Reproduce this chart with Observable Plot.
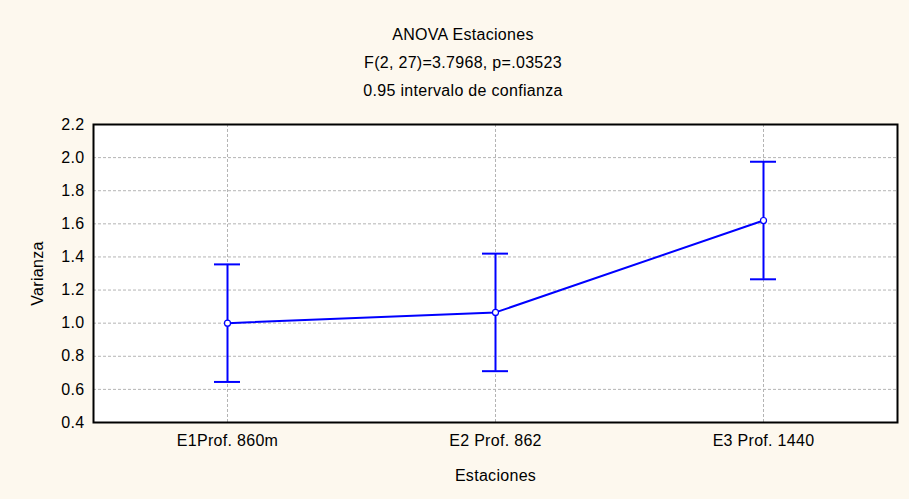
<!DOCTYPE html>
<html>
<head>
<meta charset="utf-8">
<script src="https://cdn.jsdelivr.net/npm/d3@7"></script>
<script src="https://cdn.jsdelivr.net/npm/@observablehq/plot@0.6"></script>
<style>
  html, body { margin: 0; padding: 0; background: #fdf8ee; }
  #page { width: 909px; height: 499px; background: #fdf8ee; font-family: "Liberation Sans", Arial, sans-serif; }
  #titles { height: 110px; box-sizing: border-box; padding-top: 21px; padding-left: 17px; text-align: center; color: #000; font-size: 16px; letter-spacing: 0.3px; }
  #titles div { line-height: 28px; }
  #chart svg { display: block; }
</style>
</head>
<body>
<div id="page">
  <div id="titles">
    <div>ANOVA Estaciones</div>
    <div>F(2, 27)=3.7968, p=.03523</div>
    <div>0.95 intervalo de confianza</div>
  </div>
  <div id="chart"></div>
</div>
<script>
// Station means of the variance with their 0.95 confidence limits
const stations = ["E1Prof. 860m", "E2 Prof. 862", "E3 Prof. 1440"];
const means = [1.0, 1.065, 1.62];
const lower = [0.645, 0.71, 1.265];
const upper = [1.355, 1.42, 1.975];
const yTicks = [0.4, 0.6, 0.8, 1.0, 1.2, 1.4, 1.6, 1.8, 2.0, 2.2];

const rows = stations.map((s, i) => ({station: s, mean: means[i], lo: lower[i], hi: upper[i]}));

const blue = "#0000ff";

const chart = Plot.plot({
  width: 909,
  height: 389,
  marginTop: 14,
  marginBottom: 77,
  marginLeft: 93,
  marginRight: 12,
  style: {fontFamily: "Liberation Sans, Arial, sans-serif", fontSize: "16px", letterSpacing: "0.3px", color: "#000", background: "transparent"},
  x: {type: "band", domain: stations, padding: 0, align: 0.5},
  y: {domain: [0.4, 2.2]},
  marks: [
    Plot.frame({fill: "white", stroke: "none"}),
    Plot.gridY(yTicks, {stroke: "#b4b4b4", strokeOpacity: 1, strokeDasharray: "3,2"}),
    Plot.gridX(stations, {stroke: "#b4b4b4", strokeOpacity: 1, strokeDasharray: "3,2"}),
    Plot.axisY(yTicks, {
      tickSize: 0, tickPadding: 9, tickFormat: d3.format(".1f"),
      label: "Varianza", labelAnchor: "center", labelArrow: "none", labelOffset: 62
    }),
    Plot.axisX(stations, {
      tickSize: 0, tickPadding: 12,
      label: "Estaciones", labelAnchor: "center", labelArrow: "none", labelOffset: 58
    }),
    Plot.ruleX(rows, {x: "station", y1: "lo", y2: "hi", stroke: blue, strokeWidth: 2}),
    Plot.tickY(rows, {x: "station", y: "hi", stroke: blue, strokeWidth: 2, insetLeft: 121, insetRight: 121}),
    Plot.tickY(rows, {x: "station", y: "lo", stroke: blue, strokeWidth: 2, insetLeft: 121, insetRight: 121}),
    Plot.line(rows, {x: "station", y: "mean", stroke: blue, strokeWidth: 2}),
    Plot.dot(rows, {x: "station", y: "mean", r: 3, fill: "white", stroke: blue, strokeWidth: 1.2}),
    Plot.frame({stroke: "#000", strokeWidth: 2})
  ]
});

document.getElementById("chart").append(chart);
</script>
</body>
</html>
